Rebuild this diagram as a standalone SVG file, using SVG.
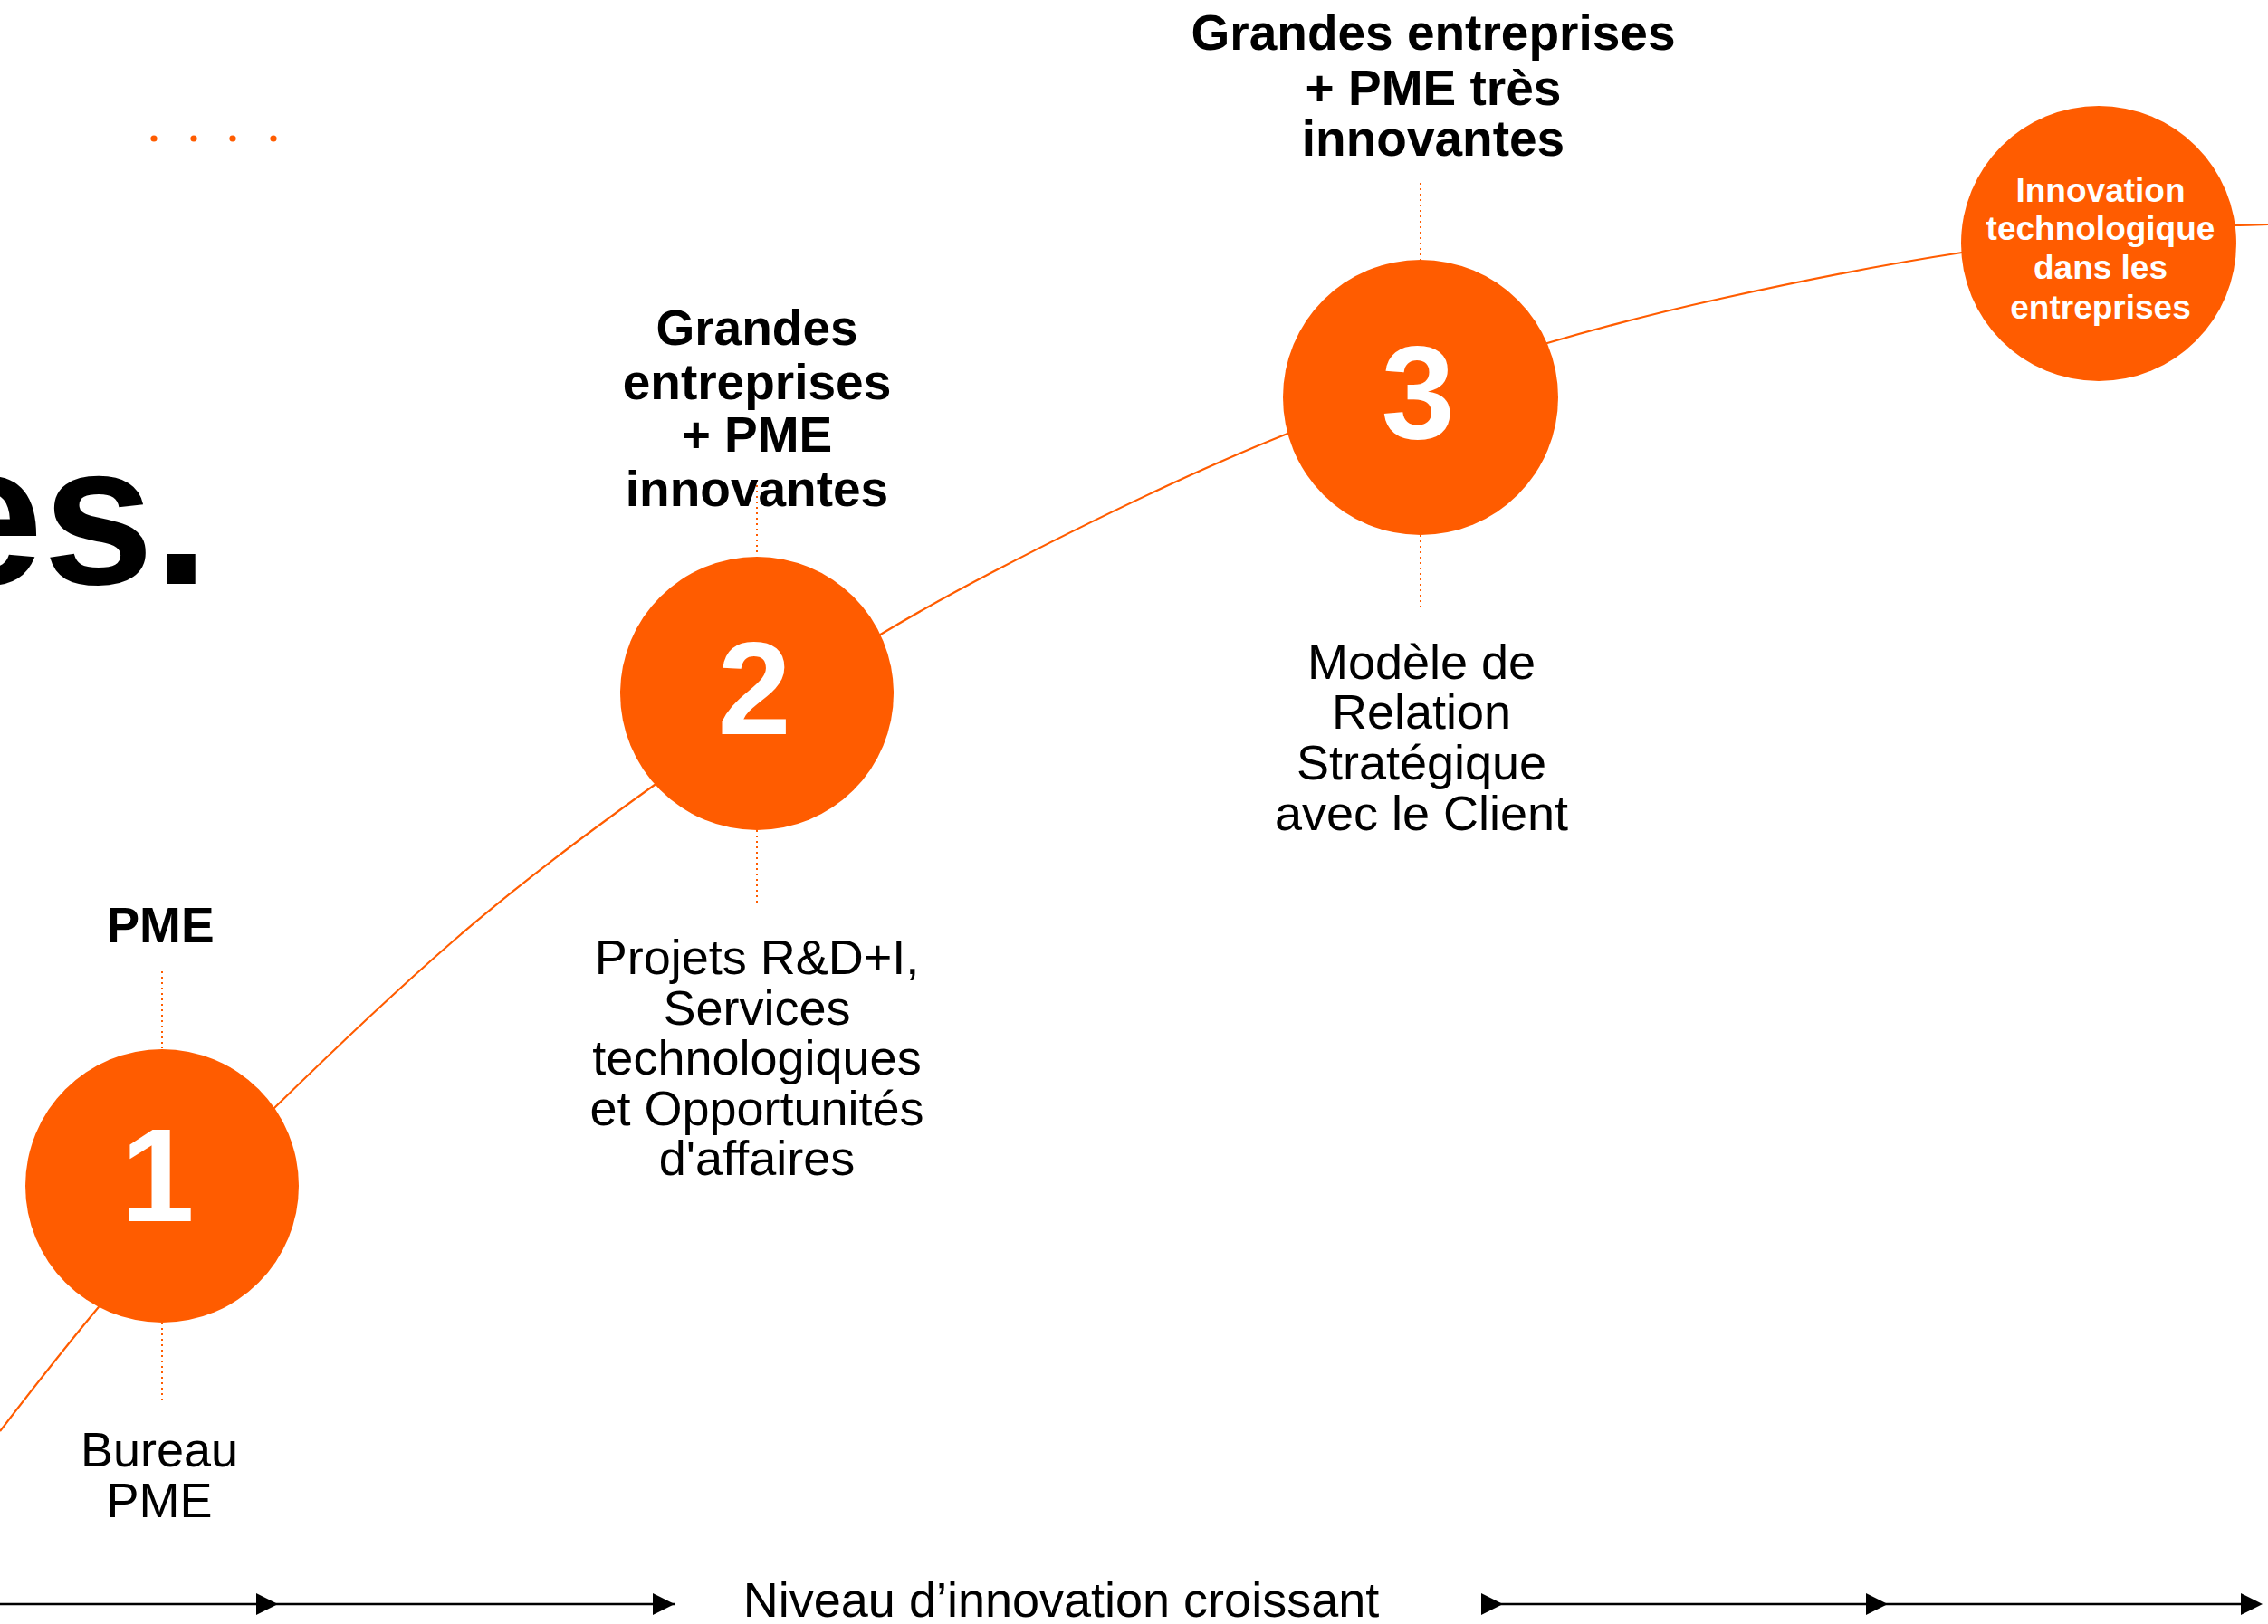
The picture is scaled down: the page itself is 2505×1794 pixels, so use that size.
<svg xmlns="http://www.w3.org/2000/svg" width="2505" height="1794" viewBox="0 0 2505 1794">
<style>
.bg{fill:#FFFFFF}
.node{fill:#FF5C00}
.curve{fill:none;stroke:#FF5C00;stroke-width:2.2}
.dot{fill:none;stroke:#FF5C00;stroke-width:2;stroke-dasharray:2 4}
.axis{fill:none;stroke:#000000;stroke-width:2.5}
.head{fill:#000000}
.t{font-family:"Liberation Sans",Arial,Helvetica,sans-serif;text-anchor:middle}
.bold{font-weight:bold}
.lab{font-size:55px;fill:#000000}
.desc{font-size:54px;fill:#000000}
.num{font-size:146px;fill:#FFFFFF;font-weight:bold}
.inner{font-size:37px;fill:#FFFFFF;font-weight:bold}
</style>
<rect class="bg" x="0" y="0" width="2505" height="1794"/>

<g id="decor">
<circle cx="170" cy="153" r="3.6" fill="#FF5C00"/>
<circle cx="214" cy="153" r="3.6" fill="#FF5C00"/>
<circle cx="257" cy="153" r="3.6" fill="#FF5C00"/>
<circle cx="302" cy="153" r="3.6" fill="#FF5C00"/>
<text class="bold" x="231" y="645" font-family="Liberation Sans, Arial, sans-serif" font-size="220" font-weight="bold" text-anchor="end" fill="#000000">es.</text>
</g>

<g id="connectors">
<path class="curve" d="M0,1581 C36,1534.2 72,1488.2 108,1445 C173.3,1366.6 238.7,1287 304,1223 C369.3,1159 434.7,1096.8 500,1040 C574.3,975.3 648.7,920.5 723,867 C806.7,806.8 890.3,750.2 974,700 C1016,674.8 1058,651.8 1100,630 C1207.3,574.2 1314.7,521.9 1422,479 C1517.7,440.7 1613.3,406.7 1709,379 C1772.7,360.5 1836.3,344 1900,330 C1989,310.4 2078,292.4 2167,279 C2267.7,263.9 2368.3,255 2469,249 C2481,248.3 2493,248.4 2505,248"/>
<line class="dot" x1="179" y1="1073" x2="179" y2="1158"/>
<line class="dot" x1="179" y1="1461" x2="179" y2="1546"/>
<line class="dot" x1="836" y1="530" x2="836" y2="614"/>
<line class="dot" x1="836" y1="917" x2="836" y2="1000"/>
<line class="dot" x1="1569" y1="202" x2="1569" y2="287"/>
<line class="dot" x1="1569" y1="591" x2="1569" y2="675"/>
</g>

<g id="axis">
<line class="axis" x1="0" y1="1772" x2="745" y2="1772"/>
<polygon class="head" points="283,1760 307,1772 283,1784"/>
<polygon class="head" points="721,1760 745,1772 721,1784"/>
<line class="axis" x1="1650" y1="1772" x2="2490" y2="1772"/>
<polygon class="head" points="1636,1760 1660,1772 1636,1784"/>
<polygon class="head" points="2061,1760 2085,1772 2061,1784"/>
<polygon class="head" points="2475,1760 2499,1772 2475,1784"/>
<text class="t desc" x="1172" y="1786">Niveau d’innovation croissant</text>
</g>

<g id="node1">
<circle class="node" cx="179" cy="1310" r="151"/>
<text class="t num" x="174" y="1349">1</text>
<text class="t bold lab" x="177" y="1041">PME</text>
<text class="t desc" x="176" y="1620">Bureau</text>
<text class="t desc" x="176" y="1676">PME</text>
</g>

<g id="node2">
<circle class="node" cx="836" cy="766" r="151"/>
<text class="t num" x="833" y="811">2</text>
<text class="t bold lab" x="836" y="381">Grandes</text>
<text class="t bold lab" x="836" y="441">entreprises</text>
<text class="t bold lab" x="836" y="499">+ PME</text>
<text class="t bold lab" x="836" y="559">innovantes</text>
<text class="t desc" x="836" y="1076">Projets R&amp;D+I,</text>
<text class="t desc" x="836" y="1132">Services</text>
<text class="t desc" x="836" y="1187">technologiques</text>
<text class="t desc" x="836" y="1243">et Opportunités</text>
<text class="t desc" x="836" y="1298">d'affaires</text>
</g>

<g id="node3">
<circle class="node" cx="1569" cy="439" r="152"/>
<text class="t num" x="1566" y="484">3</text>
<text class="t bold lab" x="1583" y="55">Grandes entreprises</text>
<text class="t bold lab" x="1583" y="116">+ PME très</text>
<text class="t bold lab" x="1583" y="172">innovantes</text>
<text class="t desc" x="1570" y="750">Modèle de</text>
<text class="t desc" x="1570" y="805">Relation</text>
<text class="t desc" x="1570" y="861">Stratégique</text>
<text class="t desc" x="1570" y="917">avec le Client</text>
</g>

<g id="node4">
<circle class="node" cx="2318" cy="269" r="152"/>
<text class="t inner" x="2320" y="223">Innovation</text>
<text class="t inner" x="2320" y="265">technologique</text>
<text class="t inner" x="2320" y="308">dans les</text>
<text class="t inner" x="2320" y="352">entreprises</text>
</g>
</svg>
